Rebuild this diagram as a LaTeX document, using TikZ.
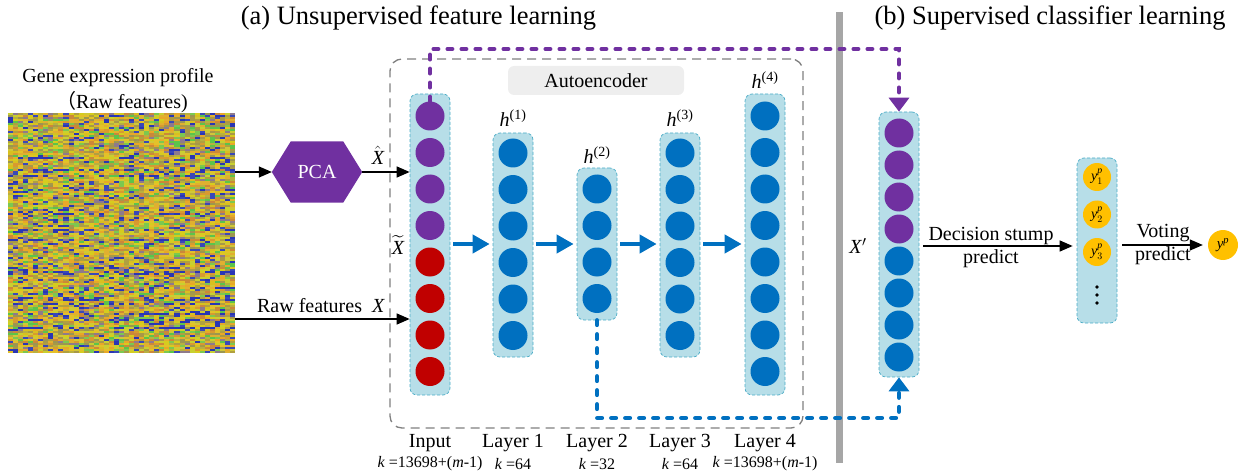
\documentclass[tikz,border=0pt]{standalone}
\usepackage{amsmath}
\usepackage{fontspec}
\setmainfont{Liberation Serif}
\newfontfamily\cjkfont{Noto Sans CJK SC}
\usetikzlibrary{arrows.meta,calc}

\definecolor{purp}{HTML}{7030A0}
\definecolor{redc}{HTML}{C00000}
\definecolor{bluec}{HTML}{0070C0}
\definecolor{orangec}{HTML}{FFC000}
\definecolor{colfill}{HTML}{B7DEE8}
\definecolor{colborder}{HTML}{4BACC6}
\definecolor{dgray}{HTML}{808080}
\definecolor{bargray}{HTML}{A6A6A6}
\definecolor{aegray}{HTML}{EEEEEE}
\definecolor{hm1}{HTML}{D6CC1E}
\definecolor{hm2}{HTML}{E3C12A}
\definecolor{hm3}{HTML}{D8C020}
\definecolor{hm4}{HTML}{C8D030}
\definecolor{hm5}{HTML}{D89A30}
\definecolor{hm6}{HTML}{2A36B4}
\definecolor{hm7}{HTML}{B0A040}
\definecolor{hm8}{HTML}{9C9650}
\definecolor{hm9}{HTML}{E0B030}
\definecolor{hm10}{HTML}{CC8838}
\definecolor{hm11}{HTML}{5CC44A}
\definecolor{hm12}{HTML}{8E7A8C}
\definecolor{hm13}{HTML}{3A48B8}
\definecolor{hm14}{HTML}{D0C838}
\definecolor{hm15}{HTML}{A89848}
\definecolor{hm16}{HTML}{E8A828}
\definecolor{hm17}{HTML}{B8B040}
\definecolor{hm18}{HTML}{7CC850}

\begin{document}
\begin{tikzpicture}[x=1pt,y=-1pt,
  txt/.style={font=\fontsize{20}{24}\selectfont, inner sep=0pt},
  ttl/.style={font=\fontsize{26.5}{30}\selectfont, inner sep=0pt},
  small/.style={font=\fontsize{16}{19}\selectfont, inner sep=0pt},
  col/.style={draw=colborder, fill=colfill, dash pattern=on 3pt off 2pt, line width=0.7pt, rounded corners=7pt, minimum width=40pt, inner sep=0pt},
  neuron/.style={circle, minimum size=29pt, inner sep=0pt},
  blk/.style={line width=1.3pt, -{Triangle[length=13pt,width=11pt]}},
  bigarrow/.style={bluec, line width=4pt, -{Triangle[length=17pt,width=18pt]}, shorten <=3pt, shorten >=3pt},
  dashline/.style={line width=4.5pt, line cap=round, dash pattern=on 4.5pt off 9.5pt, -{Triangle[length=14pt,width=20pt]}},
  dotc/.style={circle, fill=black, minimum size=3.6pt, inner sep=0pt}
]
\useasboundingbox (0,0) rectangle (1243,476);

% titles
\node[ttl] (ta) at (418.5,18) {(a) Unsupervised feature learning};
\node[ttl] (tb) at (1050,18) {(b) Supervised classifier learning};

% gray separator
\node[fill=bargray, minimum width=6.5pt, minimum height=450pt, inner sep=0pt] (bar) at (839.5,237.5) {};

% heatmap
\pgfmathsetseed{11}
\foreach \r in {0,...,119}{
  \pgfmathrandominteger{\rt}{1}{7}
  \foreach \c in {0,...,44}{
    \pgfmathrandominteger{\k}{1}{18}
    \ifnum\rt=1 \ifnum\k>13 \def\k{6}\fi\fi
    \fill[fill=hm\k] ({8+\c*5.045},{113+\r*2}) rectangle ++(5.15,2.1);
  }
}
\node[minimum width=227pt, minimum height=240pt, inner sep=0pt] (hm) at (121.5,233) {};
\node[txt] (hmt1) at (118,78) {Gene expression profile};
\node[txt] (hmt2) at (122,102) {{\cjkfont （}Raw features)};

% PCA
\node[minimum width=90pt, minimum height=61pt, inner sep=0pt] (pcabox) at (317,172) {};
\fill[purp] (pcabox.west) -- ([xshift=19pt]pcabox.north west) -- ([xshift=-19pt]pcabox.north east)
  -- (pcabox.east) -- ([xshift=-19pt]pcabox.south east) -- ([xshift=19pt]pcabox.south west) -- cycle;
\node[txt, text=white] (pca) at (pcabox) {PCA};

% autoencoder frame
\node[draw=dgray, dash pattern=on 9pt off 6pt, line width=1.3pt, rounded corners=12pt, minimum width=413pt, minimum height=369pt, inner sep=0pt] (ae) at (596.5,243.5) {};
\node[txt, fill=aegray, rounded corners=6pt, minimum width=176pt, minimum height=29pt] (aelbl) at (596,80.5) {Autoencoder};

% columns
\node[col, minimum height=301pt] (incol) at (430,244.5) {};
\node[col, minimum height=224pt] (l1col) at (513,245) {};
\node[col, minimum height=152pt] (l2col) at (597,244) {};
\node[col, minimum height=224pt] (l3col) at (680,245) {};
\node[col, minimum height=301pt] (l4col) at (765,244.5) {};
\node[col, minimum height=265pt] (xcol) at (899,244.5) {};
\node[col, minimum height=165pt] (ycol) at (1097,240.5) {};

\foreach \i/\c in {1/purp,2/purp,3/purp,4/purp,5/redc,6/redc,7/redc,8/redc}
  \node[neuron, fill=\c] (in\i) at (430,{116+36.5*(\i-1)}) {};
\foreach \i in {1,...,6}
  \node[neuron, fill=bluec] (a\i) at (513,{153+36.5*(\i-1)}) {};
\foreach \i in {1,...,4}
  \node[neuron, fill=bluec] (b\i) at (597,{189+36.5*(\i-1)}) {};
\foreach \i in {1,...,6}
  \node[neuron, fill=bluec] (c\i) at (680,{153+36.5*(\i-1)}) {};
\foreach \i in {1,...,8}
  \node[neuron, fill=bluec] (d\i) at (765,{116+36.5*(\i-1)}) {};
\foreach \i/\c in {1/purp,2/purp,3/purp,4/purp,5/bluec,6/bluec,7/bluec,8/bluec}
  \node[neuron, fill=\c] (x\i) at (899,{133+32*(\i-1)}) {};
\foreach \i/\y in {1/177,2/214.5,3/252}
  \node[neuron, fill=orangec, minimum size=28pt, font=\fontsize{14}{16}\selectfont] (y\i) at (1097,\y) {\textit{y}$^{\textit{p}}_{\i}$};
\foreach \i/\y in {1/287,2/295,3/303}
  \node[dotc] (dot\i) at (1097,\y) {};
\node[neuron, fill=orangec, minimum size=30pt, font=\fontsize{15}{17}\selectfont] (yp) at (1223,245) {\textit{y}$^{\textit{p}}$};

% layer labels
\node[txt] (h1) at (513,118) {\textit{h}\textsuperscript{(1)}};
\node[txt] (h2) at (597,155) {\textit{h}\textsuperscript{(2)}};
\node[txt] (h3) at (680,118) {\textit{h}\textsuperscript{(3)}};
\node[txt] (h4) at (765,80) {\textit{h}\textsuperscript{(4)}};

\node[txt] (lin) at (430,443) {Input};
\node[txt] (lay1) at (513,443) {Layer 1};
\node[txt] (lay2) at (597,443) {Layer 2};
\node[txt] (lay3) at (680,443) {Layer 3};
\node[txt] (lay4) at (765,443) {Layer 4};
\node[small] (k0) at (430,464) {\textit{k} =13698+(\textit{m}-1)};
\node[small] (k1) at (513,464) {\textit{k} =64};
\node[small] (k2) at (597,464) {\textit{k} =32};
\node[small] (k3) at (680,464) {\textit{k} =64};
\node[small] (k4) at (765,464) {\textit{k} =13698+(\textit{m}-1)};

% input arrows
\coordinate (rawy) at (0,319);
\draw[blk] (hm.east |- pcabox) -- (pcabox.west);
\draw[blk] (pcabox.east) -- (pcabox.east -| incol.west);
\node[txt] (hatx) at (378,155) {$\hat{\textit{X}}$};
\draw[blk] (hm.east |- rawy) -- (incol.west |- rawy);
\node[txt] (rawlbl) at (321,306) {Raw features\ \ \textit{X}};
\node[txt] (tildex) at (398,245) {$\widetilde{\textit{X}}$};

% blue layer arrows
\coordinate (ay) at (0,244);
\draw[bigarrow] (incol.east |- ay) -- (l1col.west |- ay);
\draw[bigarrow] (l1col.east |- ay) -- (l2col.west |- ay);
\draw[bigarrow] (l2col.east |- ay) -- (l3col.west |- ay);
\draw[bigarrow] (l3col.east |- ay) -- (l4col.west |- ay);

% skip connections
\coordinate (ptop) at (0,49);
\coordinate (pbot) at (0,418);
\draw[dashline, purp] (in1.north) -- (in1.north |- ptop) -| (xcol.north);
\draw[dashline, bluec] (l2col.south) -- (l2col.south |- pbot) -| (xcol.south);

% classifier part
\node[txt] (xp) at (858,246) {\textit{X}$'$};
\coordinate (cy) at (0,246);
\draw[blk, shorten <=4pt, shorten >=4pt] (xcol.east |- cy) -- (ycol.west |- cy);
\node[txt] (ds1) at (991,236) {Decision stump};
\node[txt] (ds2) at (991,259) {predict};
\draw[blk, shorten <=5pt, shorten >=5pt] (ycol.east |- yp) -- (yp.west);
\node[txt] (v1) at (1163,233) {Voting};
\node[txt] (v2) at (1163,256) {predict};
\end{tikzpicture}
\end{document}
